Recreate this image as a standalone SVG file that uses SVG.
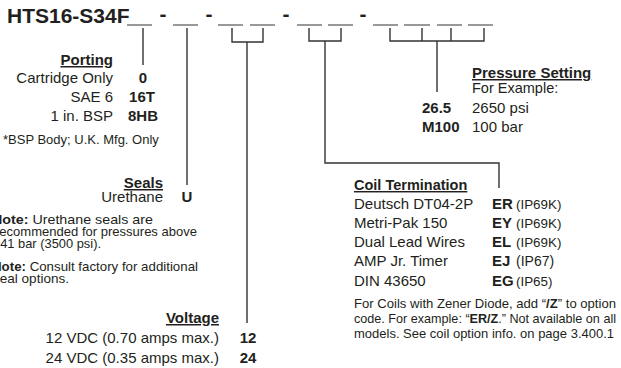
<svg xmlns="http://www.w3.org/2000/svg" width="621" height="368" viewBox="0 0 621 368">
<style>
text{font-family:"Liberation Sans",Arial,sans-serif;fill:#231f20}
.t{font-size:21px;font-weight:bold}
.h{font-size:15px;font-weight:bold;text-decoration:underline}
.i{font-size:15px}
.c{font-size:15px;font-weight:bold}
.s{font-size:13px}
.n{font-size:12.6px}
.p{font-size:13.4px}
.e{text-anchor:end}
.m{text-anchor:middle}
.b{font-weight:bold}
.blank{stroke:#555;stroke-width:1.2}
.conn{stroke:#333;stroke-width:1.4;fill:none}
</style>
<g id="model-code">
<text class="t" x="7" y="23">HTS16-S34F</text>
<text class="t m" x="163" y="21">-</text>
<text class="t m" x="209" y="21">-</text>
<text class="t m" x="286" y="21">-</text>
<text class="t m" x="363" y="21">-</text>
<line class="blank" x1="127" y1="25" x2="152" y2="25"/>
<line class="blank" x1="173" y1="25" x2="198" y2="25"/>
<line class="blank" x1="218" y1="25" x2="243" y2="25"/>
<line class="blank" x1="250" y1="25" x2="275" y2="25"/>
<line class="blank" x1="297" y1="25" x2="322" y2="25"/>
<line class="blank" x1="328" y1="25" x2="353" y2="25"/>
<line class="blank" x1="373" y1="25" x2="398" y2="25"/>
<line class="blank" x1="404" y1="25" x2="430" y2="25"/>
<line class="blank" x1="437" y1="25" x2="462" y2="25"/>
<line class="blank" x1="468" y1="25" x2="493" y2="25"/>
</g>
<g id="connectors">
<path class="conn" d="M143 28V65"/>
<path class="conn" d="M187 28V185"/>
<path class="conn" d="M232 28V42H263V28M247 42V323"/>
<path class="conn" d="M309 28V41H341V28M325 41V163H499V188"/>
<path class="conn" d="M390 28V41H484V28M422 28V41M451 28V41M437 41V92"/>
</g>
<g id="porting">
<text class="h e" x="113" y="65">Porting</text>
<text class="i e" x="113" y="83">Cartridge Only</text>
<text class="i e" x="113" y="102">SAE 6</text>
<text class="i e" x="113" y="121">1 in. BSP</text>
<text class="c m" x="143" y="83">0</text>
<text class="c m" x="142" y="102">16T</text>
<text class="c m" x="143" y="121">8HB</text>
<text class="s" x="3" y="144">*BSP Body; U.K. Mfg. Only</text>
</g>
<g id="seals">
<text class="h e" x="163" y="188">Seals</text>
<text class="i e" x="163" y="202">Urethane</text>
<text class="c m" x="187" y="202">U</text>
<text class="n" x="-8" y="224" textLength="161" lengthAdjust="spacingAndGlyphs"><tspan class="b">Note:</tspan> Urethane seals are</text>
<text class="n" x="-5" y="236" textLength="202" lengthAdjust="spacingAndGlyphs">recommended for pressures above</text>
<text class="n" x="-7" y="248" textLength="108" lengthAdjust="spacingAndGlyphs">241 bar (3500 psi).</text>
<text class="n" x="-8" y="271" textLength="206" lengthAdjust="spacingAndGlyphs"><tspan class="b">Note:</tspan> Consult factory for additional</text>
<text class="n" x="-7" y="283" textLength="76" lengthAdjust="spacingAndGlyphs">seal options.</text>
</g>
<g id="voltage">
<text class="h e" x="219" y="323">Voltage</text>
<text class="i e" x="219" y="343">12 VDC (0.70 amps max.)</text>
<text class="i e" x="219" y="363">24 VDC (0.35 amps max.)</text>
<text class="c m" x="248" y="343">12</text>
<text class="c m" x="248" y="363">24</text>
</g>
<g id="coil-termination">
<text class="h" x="354" y="190" style="font-size:14.5px">Coil Termination</text>
<text class="i" x="354" y="209">Deutsch DT04-2P</text>
<text class="i" x="354" y="228">Metri-Pak 150</text>
<text class="i" x="354" y="247">Dual Lead Wires</text>
<text class="i" x="354" y="266">AMP Jr. Timer</text>
<text class="i" x="354" y="286">DIN 43650</text>
<text class="c" x="492" y="209">ER</text>
<text class="c" x="492" y="228">EY</text>
<text class="c" x="492" y="247">EL</text>
<text class="c" x="492" y="266">EJ</text>
<text class="c" x="492" y="286">EG</text>
<text class="p" x="516" y="209">(IP69K)</text>
<text class="p" x="516" y="228">(IP69K)</text>
<text class="p" x="516" y="247">(IP69K)</text>
<text class="p" x="516" y="266" style="font-size:14px">(IP67)</text>
<text class="p" x="516" y="286">(IP65)</text>
<text class="s" x="354" y="308" textLength="262" lengthAdjust="spacingAndGlyphs">For Coils with Zener Diode, add “<tspan class="b">/Z</tspan>” to option</text>
<text class="s" x="354" y="323" textLength="262" lengthAdjust="spacingAndGlyphs">code. For example: “<tspan class="b">ER/Z</tspan>.” Not available on all</text>
<text class="s" x="354" y="338" textLength="260" lengthAdjust="spacingAndGlyphs">models. See coil option info. on page 3.400.1</text>
</g>
<g id="pressure-setting">
<text class="h" x="472" y="78">Pressure Setting</text>
<text class="i" x="472" y="93" style="font-size:14.5px">For Example:</text>
<text class="c" x="422" y="113">26.5</text>
<text class="i" x="472" y="113">2650 psi</text>
<text class="c" x="422" y="132">M100</text>
<text class="i" x="472" y="132">100 bar</text>
</g>
</svg>
